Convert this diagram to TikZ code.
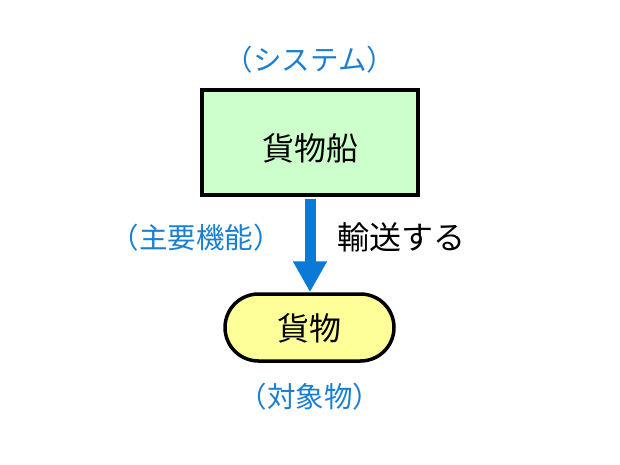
\documentclass[tikz,border=0pt]{standalone}
\usepackage{fontspec}
\setmainfont{Noto Sans CJK JP}
\usetikzlibrary{arrows.meta,shapes.misc}
\definecolor{boxgreen}{HTML}{CCFFCC}
\definecolor{capyellow}{HTML}{FFFF99}
\definecolor{ablue}{HTML}{0A7AD6}
\definecolor{lblue}{HTML}{1A7FD0}
\begin{document}
\begin{tikzpicture}[x=1pt,y=-1pt,
  blacktext/.style={font=\fontsize{32}{36}\selectfont, text=black, inner sep=0pt},
  bluetext/.style={font=\fontsize{28.5}{32}\selectfont, text=lblue, inner sep=0pt},
  sysbox/.style={draw=black, line width=3.5pt, fill=boxgreen, minimum width=216pt, minimum height=105pt, inner sep=0pt},
  objcap/.style={draw=black, line width=3.5pt, fill=capyellow, rounded rectangle, minimum width=169pt, minimum height=67pt, inner sep=0pt},
  funcarrow/.style={draw=ablue, line width=11pt, -{Triangle[width=32pt,length=31pt]}, color=ablue, shorten <=1.75pt}
]
\useasboundingbox (0,0) rectangle (620,465);
\node[sysbox] (ship) at (310,142.5) {};
\node[blacktext] (shiptext) at (310,148) {貨物船};
\node[objcap] (cargo) at (309.5,327.5) {};
\node[blacktext] (cargotext) at (309.5,328) {貨物};
\draw[funcarrow] (ship.south -| 310,0) -- (cargo.north -| 310,0);
\node[bluetext] (sys) at (310,60) {（システム）};
\node[bluetext] (func) at (196,238) {（主要機能）};
\node[blacktext] (verb) at (401,237) {輸送する};
\node[bluetext] (obj) at (310,397) {（対象物）};
\end{tikzpicture}
\end{document}
